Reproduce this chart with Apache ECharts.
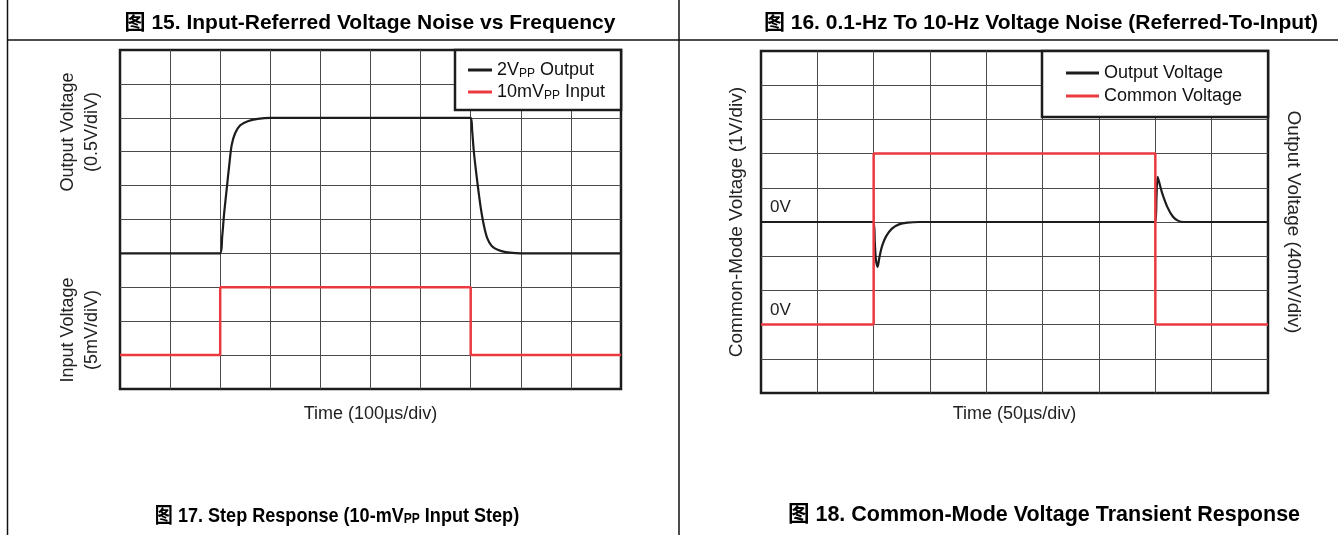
<!DOCTYPE html>
<html>
<head>
<meta charset="utf-8">
<script src="https://cdn.jsdelivr.net/npm/echarts@6/dist/echarts.min.js"></script>
<style>
html,body{margin:0;padding:0;background:#fff;}
#main{width:1338px;height:535px;}
</style>
</head>
<body>
<div id="main"></div>
<script>
// ---------- Data (in oscilloscope divisions) ----------
// Figure 17: step response (x: 100us/div, 10 divisions)
const stepOutTime = [0, 2.0, 2.04, 2.08, 2.13, 2.18, 2.23, 2.3, 2.4, 2.55, 2.75, 3.0, 7.0, 7.03, 7.06, 7.1, 7.15, 7.2, 7.26, 7.33, 7.42, 7.55, 7.7, 7.9, 8.1, 10];
const stepOutValue = [4, 4, 4.5, 5.2, 5.9, 6.6, 7.2, 7.55, 7.78, 7.9, 7.97, 8, 8, 7.6, 7.05, 6.5, 5.9, 5.35, 4.85, 4.45, 4.22, 4.1, 4.04, 4.01, 4, 4];
const stepInTime = [0, 2, 2, 7, 7, 10];
const stepInValue = [1, 1, 3, 3, 1, 1];
// Figure 18: common-mode transient (x: 50us/div, 9 divisions)
const cmOutTime = [0, 2.0, 2.02, 2.04, 2.07, 2.1, 2.15, 2.22, 2.32, 2.45, 2.6, 2.8, 7.0, 7.02, 7.04, 7.07, 7.12, 7.21, 7.31, 7.4, 7.5, 9];
const cmOutValue = [5, 5, 4.4, 3.9, 3.69, 3.95, 4.3, 4.58, 4.8, 4.93, 4.98, 5, 5, 5.7, 6.32, 6.15, 5.85, 5.45, 5.16, 5.04, 5, 5];
const cmInTime = [0, 2, 2, 7, 7, 9];
const cmInValue = [2, 2, 7, 7, 2, 2];

const titles = [
  '图 15. Input-Referred Voltage Noise vs Frequency',
  '图 16. 0.1-Hz To 10-Hz Voltage Noise (Referred-To-Input)',
  '图 17. Step Response (10-mV{s|PP} Input Step)',
  '图 18. Common-Mode Voltage Transient Response'
];
const seriesNames = ['2VPP Output', '10mVPP Input', 'Output Voltage', 'Common Voltage'];
const legendLabels = {'2VPP Output': '2V{s|PP} Output', '10mVPP Input': '10mV{s|PP} Input'};

// ---------- Styles ----------
const FONT = '"Liberation Sans", Arial, Helvetica, "Noto Sans CJK SC", sans-serif';
const BLACK = '#1c1c1c';
const RED = '#ea3a40';
const GRIDC = '#4a4a4a';

function zip(a, b) { return a.map((v, i) => [v, b[i]]); }

function xAx(grid, max, name, gap, fs) {
  return {
    type: 'value', gridIndex: grid, min: 0, max: max, interval: 1,
    axisLine: {show: false}, axisTick: {show: false}, axisLabel: {show: false},
    splitLine: {show: true, showMinLine: false, showMaxLine: false, lineStyle: {color: GRIDC, width: 1}},
    name: name, nameLocation: 'middle', nameGap: gap,
    nameTextStyle: {fontFamily: FONT, fontSize: fs, color: '#222'}
  };
}
function yAx(grid, opts) {
  return Object.assign({
    type: 'value', gridIndex: grid, min: 0, max: 10, interval: 1,
    axisLine: {show: false}, axisTick: {show: false}, axisLabel: {show: false},
    splitLine: {show: true, showMinLine: false, showMaxLine: false, lineStyle: {color: GRIDC, width: 1}},
    nameTextStyle: {fontFamily: FONT, fontSize: 19, color: '#222'}
  }, opts || {});
}
const richSub = {s: {fontFamily: FONT, fontSize: 12, lineHeight: 12, verticalAlign: 'bottom', color: '#111'}};

const chart = echarts.init(document.getElementById('main'), null, {renderer: 'canvas'});
const option = {
  animation: false,
  backgroundColor: '#fff',
  grid: [
    {left: 120, top: 50, width: 501, height: 339, show: true, borderColor: BLACK, borderWidth: 2.5, backgroundColor: 'transparent'},
    {left: 761, top: 51, width: 507, height: 342, show: true, borderColor: BLACK, borderWidth: 2.5, backgroundColor: 'transparent'}
  ],
  xAxis: [
    xAx(0, 10, 'Time (100µs/div)', 16, 18),
    xAx(1, 9, 'Time (50µs/div)', 12, 18)
  ],
  yAxis: [
    yAx(0),
    yAx(1, {name: 'Common-Mode Voltage (1V/div)', nameLocation: 'middle', nameGap: 15, position: 'left'}),
    yAx(1, {name: 'Output Voltage (40mV/div)', nameLocation: 'middle', nameGap: 16, position: 'right', nameRotate: -90, splitLine: {show: false}})
  ],
  legend: [
    {
      data: [seriesNames[0], seriesNames[1]], orient: 'vertical', left: 455, top: 50,
      padding: [10, 16, 8, 13], itemGap: 2, itemWidth: 24, itemHeight: 3, icon: 'rect',
      backgroundColor: '#fff', borderColor: BLACK, borderWidth: 2.5, borderRadius: 0,
      formatter: n => legendLabels[n] || n,
      textStyle: {fontFamily: FONT, fontSize: 18, lineHeight: 20, color: '#111', padding: [0, 0, 0, 0], rich: richSub},
      selectedMode: false
    },
    {
      data: [seriesNames[2], seriesNames[3]], orient: 'vertical', left: 1042, top: 51,
      padding: [12, 26, 11, 24], itemGap: 3, itemWidth: 33, itemHeight: 3, icon: 'rect',
      backgroundColor: '#fff', borderColor: BLACK, borderWidth: 2.5, borderRadius: 0,
      textStyle: {fontFamily: FONT, fontSize: 18, lineHeight: 20, color: '#111'},
      selectedMode: false
    }
  ],
  series: [
    {name: seriesNames[0], type: 'line', xAxisIndex: 0, yAxisIndex: 0, data: zip(stepOutTime, stepOutValue),
     showSymbol: false, smooth: 0.3, lineStyle: {color: BLACK, width: 2.2}, itemStyle: {color: BLACK}, z: 3},
    {name: seriesNames[1], type: 'line', xAxisIndex: 0, yAxisIndex: 0, data: zip(stepInTime, stepInValue),
     showSymbol: false, lineStyle: {color: RED, width: 2.5}, itemStyle: {color: RED}, z: 2},
    {name: seriesNames[2], type: 'line', xAxisIndex: 1, yAxisIndex: 2, data: zip(cmOutTime, cmOutValue),
     showSymbol: false, smooth: 0.3, lineStyle: {color: BLACK, width: 2.2}, itemStyle: {color: BLACK}, z: 2},
    {name: seriesNames[3], type: 'line', xAxisIndex: 1, yAxisIndex: 1, data: zip(cmInTime, cmInValue),
     showSymbol: false, lineStyle: {color: RED, width: 2.5}, itemStyle: {color: RED}, z: 3}
  ]
};
chart.setOption(option);

// ---------- Annotations / frame ----------
const p0a = chart.convertToPixel({xAxisIndex: 1, yAxisIndex: 2}, [0, cmOutValue[0]]);
const p0b = chart.convertToPixel({xAxisIndex: 1, yAxisIndex: 1}, [0, cmInValue[0]]);
const lineStyle = {stroke: '#111', lineWidth: 1.5};
const titleFont = 'bold 21px ' + FONT;
chart.setOption({
  graphic: [
    {type: 'line', shape: {x1: 7.5, y1: 0, x2: 7.5, y2: 535}, style: lineStyle, silent: true},
    {type: 'line', shape: {x1: 679, y1: 0, x2: 679, y2: 535}, style: lineStyle, silent: true},
    {type: 'line', shape: {x1: 7.5, y1: 40, x2: 1338, y2: 40}, style: lineStyle, silent: true},
    {type: 'text', x: 370, y: 23, style: {text: titles[0], font: titleFont, fill: '#000', align: 'center', verticalAlign: 'middle'}},
    {type: 'text', x: 1041, y: 23, style: {text: titles[1], font: titleFont, fill: '#000', align: 'center', verticalAlign: 'middle'}},
    {type: 'text', x: 337, y: 516, scaleX: 0.86, style: {text: titles[2], font: titleFont, fill: '#000', align: 'center', verticalAlign: 'middle',
      rich: {s: {font: 'bold 14px ' + FONT, fill: '#000', lineHeight: 14, verticalAlign: 'bottom'}}}},
    {type: 'text', x: 1044, y: 515, style: {text: titles[3], font: 'bold 21.5px ' + FONT, fill: '#000', align: 'center', verticalAlign: 'middle'}},
    {type: 'text', x: 80, y: 132, rotation: Math.PI / 2, style: {text: 'Output Voltage\n(0.5V/diV)', font: '18px ' + FONT, fill: '#222', align: 'center', verticalAlign: 'middle', lineHeight: 24}},
    {type: 'text', x: 80, y: 330, rotation: Math.PI / 2, style: {text: 'Input Voltage\n(5mV/diV)', font: '18px ' + FONT, fill: '#222', align: 'center', verticalAlign: 'middle', lineHeight: 24}},
    {type: 'text', x: p0a[0] + 9, y: p0a[1] - 15, style: {text: '0V', font: '17px ' + FONT, fill: '#222', align: 'left', verticalAlign: 'middle'}},
    {type: 'text', x: p0b[0] + 9, y: p0b[1] - 14, style: {text: '0V', font: '17px ' + FONT, fill: '#222', align: 'left', verticalAlign: 'middle'}}
  ]
});
</script>
</body>
</html>
